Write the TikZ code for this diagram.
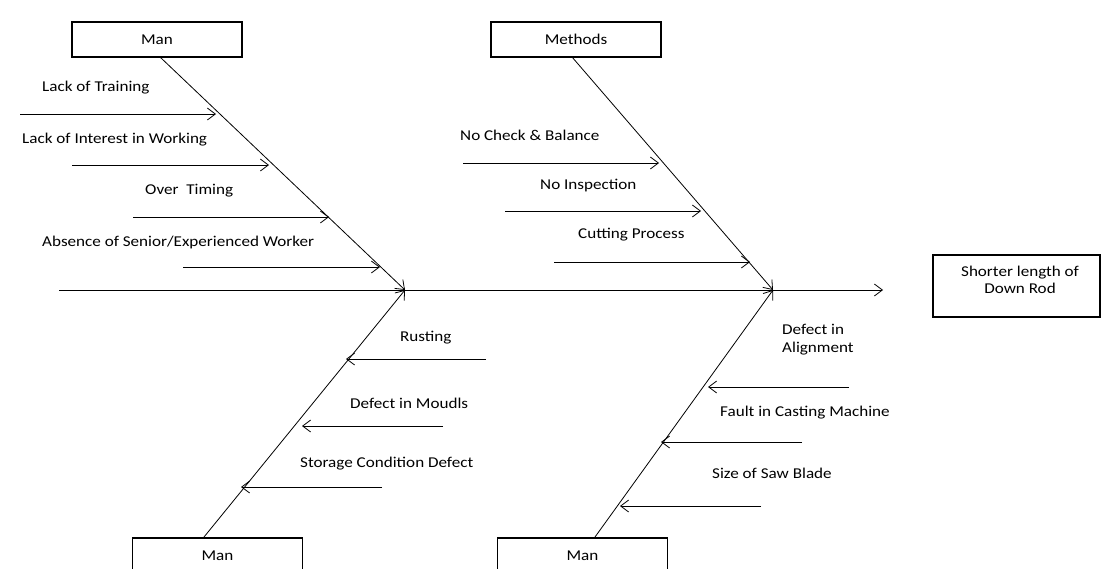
\documentclass[tikz,border=0pt]{standalone}
\usepackage{fontspec}
\setmainfont{Carlito}[FakeStretch=1.14]
\usetikzlibrary{arrows.meta}
\tikzset{
  cbox/.style={draw, line width=1.6pt, minimum width=170pt, minimum height=35pt, inner sep=0pt, font=\fontsize{15}{17}\selectfont},
  lbl/.style={anchor=west, inner sep=0pt, font=\fontsize{15}{17}\selectfont},
  bone/.style={line width=0.8pt},
  rib/.style={line width=0.8pt, -{Straight Barb[length=8pt,width=12pt,line width=0.8pt]}},
}
\begin{document}
\begin{tikzpicture}[x=1pt,y=-1pt]
\useasboundingbox (0,0) rectangle (1102,568);
\clip (0,0) rectangle (1102,568);
% boxes
\node[cbox] (mantop) at (157,39.5) {Man};
\node[cbox] (methods) at (576,39.5) {Methods};
\node[cbox, anchor=north] (manbl) at (217.5,537) {Man};
\node[cbox, anchor=north] (manbr) at (582.5,537) {Man};
\node[draw, line width=1.6pt, minimum width=167pt, minimum height=62pt, inner sep=0pt] (effect) at (1016.5,286) {};
\node[inner sep=0pt, align=center, font=\fontsize{15}{17}\selectfont] (effecttxt) at (1020,280) {Shorter length of\\Down Rod};
% spine
\coordinate (spS) at (59,290);
\coordinate (spE) at (883,290);
\coordinate (j1) at (405,290);
\coordinate (j2) at (773,290);
\draw[rib] (spS) -- (spE);
% main bones
\draw[rib] (160,57) coordinate (mt) -- (j1);
\draw[rib] (572,57) coordinate (me) -- (j2);
\draw[rib] (204,537) coordinate (mbl) -- (j1);
\draw[rib] (595,537) coordinate (mbr) -- (j2);
% top-left ribs
\coordinate (a1s) at (20,114); \coordinate (a1e) at (216,114);
\coordinate (a2s) at (72,165); \coordinate (a2e) at (269,165);
\coordinate (a3s) at (133,217); \coordinate (a3e) at (329,217);
\coordinate (a4s) at (183,267); \coordinate (a4e) at (380,267);
\draw[rib] (a1s) -- (a1e);
\draw[rib] (a2s) -- (a2e);
\draw[rib] (a3s) -- (a3e);
\draw[rib] (a4s) -- (a4e);
\node[lbl] (l1) at (42,88) {Lack of Training};
\node[lbl] (l2) at (22,140) {Lack of Interest in Working};
\node[lbl] (l3) at (145,191) {Over\ \ Timing};
\node[lbl] (l4) at (42,242) {Absence of Senior/Experienced Worker};
% methods ribs
\coordinate (b1s) at (463,163); \coordinate (b1e) at (659,163);
\coordinate (b2s) at (505,211); \coordinate (b2e) at (701,211);
\coordinate (b3s) at (554,262); \coordinate (b3e) at (750,262);
\draw[rib] (b1s) -- (b1e);
\draw[rib] (b2s) -- (b2e);
\draw[rib] (b3s) -- (b3e);
\node[lbl] (m1) at (460,135) {No Check \& Balance};
\node[lbl] (m2) at (540,186) {No Inspection};
\node[lbl] (m3) at (578,235) {Cutting Process};
% bottom-left ribs
\coordinate (c1s) at (486,359); \coordinate (c1e) at (346,359);
\coordinate (c2s) at (443,426); \coordinate (c2e) at (302,426);
\coordinate (c3s) at (382,487); \coordinate (c3e) at (241,487);
\draw[rib] (c1s) -- (c1e);
\draw[rib] (c2s) -- (c2e);
\draw[rib] (c3s) -- (c3e);
\node[lbl] (n1) at (400,338) {Rusting};
\node[lbl] (n2) at (350,403) {Defect in Moudls};
\node[lbl] (n3) at (300,464) {Storage Condition Defect};
% bottom-right ribs
\coordinate (d1s) at (849,387); \coordinate (d1e) at (708,387);
\coordinate (d2s) at (802,442); \coordinate (d2e) at (661,442);
\coordinate (d3s) at (761,506); \coordinate (d3e) at (620,506);
\draw[rib] (d1s) -- (d1e);
\draw[rib] (d2s) -- (d2e);
\draw[rib] (d3s) -- (d3e);
\node[lbl, align=left, font=\fontsize{15}{18}\selectfont] (o1) at (782,340) {Defect in\\Alignment};
\node[lbl] (o2) at (720,413) {Fault in Casting Machine};
\node[lbl] (o3) at (712,473) {Size of Saw Blade};
\end{tikzpicture}
\end{document}
